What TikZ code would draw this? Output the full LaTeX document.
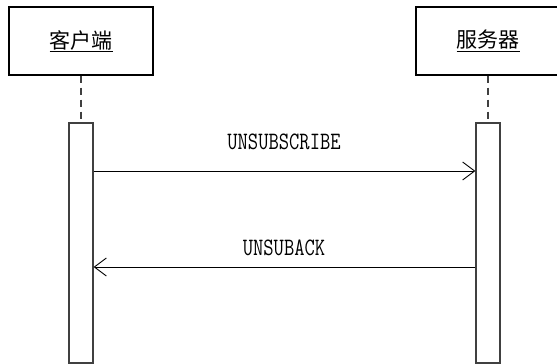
\documentclass[tikz,border=0pt]{standalone}
\usepackage{fontspec}
\newfontfamily\cjkfont{Noto Sans CJK SC}
\usetikzlibrary{arrows.meta}

\newcommand{\msgtext}[1]{\scalebox{1}[1.25]{#1}}

\begin{document}
\begin{tikzpicture}[x=1pt,y=-1pt,
    party/.style={draw=black, line width=1.2pt, minimum width=144pt, minimum height=68pt, inner sep=0pt,
      font=\cjkfont\fontsize{21}{24}\selectfont},
    activebar/.style={draw=black!75, line width=1.2pt, minimum width=24pt, minimum height=240pt, inner sep=0pt},
    lifeline/.style={black!75, line width=1.2pt, dash pattern=on 7pt off 5pt},
    msg/.style={black, line width=0.9pt, -{Straight Barb[length=12pt,width=18pt]}},
    msglabel/.style={font=\ttfamily\fontsize{20}{24}\selectfont, inner sep=0pt}]
    \useasboundingbox (0,0) rectangle (557,364);

    % participants
    \node[party] (client) at (81,41) {\underline{客户端}};
    \node[party] (server) at (488,41) {\underline{服务器}};

    % activation bars
    \node[activebar] (cbar) at (81,243) {};
    \node[activebar] (sbar) at (488,243) {};
    \draw[lifeline] (client.south) -- (cbar.north);
    \draw[lifeline] (server.south) -- (sbar.north);

    % messages
    \coordinate (m1) at (0,171);
    \coordinate (m2) at (0,267);
    \draw[msg] (cbar.east |- m1) -- (sbar.west |- m1);
    \draw[msg] (sbar.west |- m2) -- (cbar.east |- m2);
    \node[msglabel] (l1) at (284,142) {\msgtext{UNSUBSCRIBE}};
    \node[msglabel] (l2) at (284,248) {\msgtext{UNSUBACK}};
\end{tikzpicture}
\end{document}
